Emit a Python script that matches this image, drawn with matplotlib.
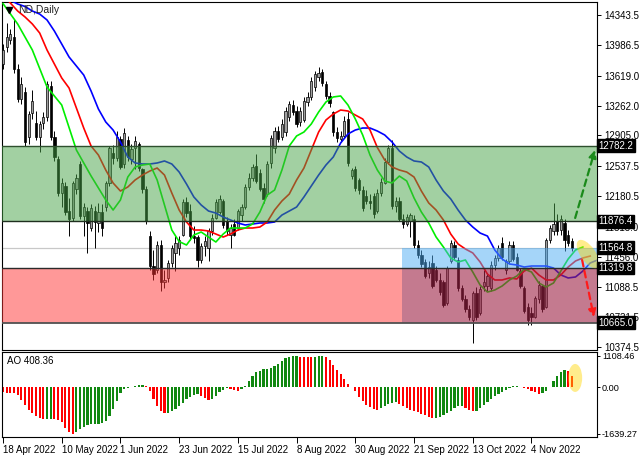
import numpy as np
import matplotlib.pyplot as plt
from matplotlib.patches import Ellipse, Rectangle
from matplotlib.transforms import ScaledTranslation

plt.rcParams['font.family'] = ['Liberation Sans', 'DejaVu Sans']

# daily candles, 18 Apr 2022 .. 22 Nov 2022 (bar index 0..155)
opens = [13760, 13960, 14050, 14080, 13700, 13340, 13420, 12880, 13170, 13050,
         12890, 13050, 13120, 13500, 12880, 12620, 12220, 12300, 12000, 11920,
         12260, 12560, 11940, 12000, 11800, 12000, 11860, 11990, 12050, 12340,
         12700, 12640, 12860, 12560, 12850, 12620, 12760, 12800, 12500, 12260,
         11700, 11350, 11300, 11600, 11150, 11200, 11380, 11500, 11560, 11720,
         12110, 12000, 11700, 11690, 11420, 11580, 11560, 11760, 11920, 11990,
         12120, 11880, 11720, 11850, 11800, 11950, 12050, 12290, 12400, 12540,
         12450, 12280, 12200, 12570, 12760, 12960, 12880, 12940, 13130, 13270,
         13200, 13060, 13090, 13300, 13360, 13480, 13600, 13660, 13520, 13380,
         13180, 12950, 12860, 12900, 13100, 12420, 12500, 12370, 12250, 12180,
         12120, 12180, 12000, 12220, 12340, 12590, 12760, 12060, 12120, 11910,
         11850, 11880, 11900, 11600, 11480, 11390, 11260, 11380, 11300, 11180,
         11150, 10900, 11400, 11600, 11420, 11080, 10950, 10830, 10700, 11020,
         10780, 11100, 11100, 11080, 11360, 11440, 11620, 11300, 11400, 11600,
         11450, 11280, 11080, 10850, 10780, 10740, 10950, 11100, 10860, 11660,
         11760, 11880, 11780, 11860, 11720, 11640]
highs = [14000, 14250, 14180, 14300, 13760, 13600, 13480, 13200, 13450, 13200,
         13080, 13180, 13560, 13560, 12960, 12660, 12400, 12350, 12160, 12360,
         12440, 12600, 12100, 12050, 12080, 12060, 12100, 12080, 12360, 12780,
         12790, 12960, 12900, 12990, 12900, 12800, 12900, 12830, 12520, 12300,
         11760, 11540, 11640, 11650, 11300, 11420, 11600, 11700, 11700, 12140,
         12170, 12080, 11820, 11720, 11620, 11700, 11800, 11960, 12150, 12190,
         12140, 11930, 11850, 11900, 12030, 12080, 12320, 12450, 12560, 12680,
         12500, 12340, 12600, 12910, 13000, 13020, 13100, 13240, 13320, 13330,
         13260, 13240, 13360, 13420, 13600, 13680, 13720, 13700, 13560, 13420,
         13200, 13000, 12960, 13140, 13180, 12520, 12540, 12400, 12300, 12250,
         12200, 12220, 12260, 12390, 12630, 12790, 12850, 12170, 12170, 11960,
         11960, 11980, 11950, 11650, 11540, 11430, 11400, 11480, 11340, 11260,
         11180, 11350, 11660, 11640, 11450, 11120, 11000, 10880, 11050, 11090,
         11100, 11300, 11260, 11400, 11470, 11600, 11690, 11430, 11640, 11640,
         11500, 11320, 11100, 10900, 10860, 10990, 11160, 11120, 11680, 11830,
         12100, 11960, 11950, 11900, 11780, 11680]
lows = [13700, 13900, 14000, 13650, 13300, 13280, 12780, 12800, 13100, 12850,
        12710, 12980, 13080, 12850, 12600, 12180, 12050, 11950, 11700, 11880,
        12200, 11900, 11700, 11500, 11760, 11560, 11750, 11700, 12000, 12300,
        12560, 12600, 12500, 12520, 12600, 12560, 12500, 12480, 12220, 11840,
        11300, 11180, 11260, 11050, 11080, 11150, 11330, 11280, 11480, 11700,
        11930, 11650, 11620, 11330, 11380, 11460, 11400, 11720, 11900, 11960,
        11800, 11720, 11560, 11700, 11780, 11880, 12030, 12250, 12360, 12330,
        12240, 12100, 12180, 12520, 12700, 12820, 12850, 12900, 13080, 13150,
        13000, 13020, 13060, 13260, 13330, 13440, 13560, 13500, 13340, 13250,
        12900, 12830, 12830, 12870, 12540, 12380, 12240, 12200, 12000, 12080,
        12020, 11920, 11980, 12180, 12320, 12560, 12030, 11990, 11880, 11800,
        11820, 11690, 11560, 11440, 11330, 11200, 11200, 11080, 11150, 11000,
        10850, 10880, 11380, 11420, 11050, 10920, 10800, 10700, 10420, 10700,
        10760, 11050, 11040, 11050, 11300, 11400, 11420, 11250, 11380, 11400,
        11280, 11080, 10780, 10640, 10640, 10720, 10900, 10800, 10840, 11620,
        11720, 11720, 11720, 11520, 11580, 11520]
closes = [13930, 14080, 14120, 13700, 13340, 13520, 12820, 13160, 13320, 12880,
          13040, 13120, 13520, 12890, 12650, 12220, 12330, 11990, 11900, 12330,
          12400, 11940, 12050, 11860, 12040, 11870, 11990, 11800, 12330, 12750,
          12640, 12880, 12530, 12930, 12650, 12740, 12840, 12520, 12260, 11880,
          11340, 11250, 11600, 11150, 11180, 11380, 11560, 11620, 11650, 12110,
          11980, 11700, 11680, 11420, 11580, 11640, 11760, 11920, 12110, 12150,
          11830, 11760, 11800, 11720, 12000, 12050, 12290, 12400, 12530, 12360,
          12270, 12150, 12560, 12870, 12960, 12860, 13040, 13200, 13280, 13180,
          13040, 13200, 13320, 13360, 13560, 13640, 13650, 13530, 13380, 13290,
          12940, 12870, 12900, 13080, 12570, 12490, 12280, 12250, 12040, 12120,
          12100, 11960, 12220, 12350, 12590, 12760, 12060, 12120, 11910, 11850,
          11930, 11950, 11600, 11470, 11370, 11230, 11330, 11110, 11180, 11030,
          10880, 11320, 11620, 11450, 11080, 10950, 10830, 10730, 11020, 10730,
          11070, 11150, 11220, 11360, 11440, 11560, 11450, 11400, 11600, 11430,
          11300, 11100, 10810, 10700, 10740, 10960, 11120, 10830, 11650, 11800,
          11850, 11760, 11900, 11660, 11620, 11565]

# Alligator lines (lips / teeth / jaw)
lips_x = [0, 4, 8, 12, 16, 20, 24, 28, 30, 32, 34, 36, 38] + list(range(40, 159, 2))
lips = [14480, 14236, 13925, 13483, 13268, 12730, 12420, 12133, 12013, 12133, 12407, 12527, 12551,
        12563, 12372, 12073, 11774, 11636, 11595, 11714, 11750, 11690, 11631,
        11726, 11798, 11798, 11798, 11846, 11990, 12192, 12252, 12491, 12778,
        12898, 12945, 13041, 13184, 13304, 13364, 13376, 13268, 13101, 12910,
        12670, 12491, 12360, 12336, 12419, 12360, 12157, 11989, 11858, 11691,
        11571, 11440, 11392, 11416, 11272, 11117, 11033, 11057, 11105, 11177,
        11224, 11308, 11272, 11141, 11093, 11141, 11284, 11428, 11535, 11571]
teeth_x = list(range(0, 161, 2))
teeth = [14580, 14487, 14391, 14320, 14236, 14128, 13925, 13758, 13591, 13471,
         13232, 12993, 12778, 12670, 12491, 12336, 12240, 12288, 12372, 12431,
         12479, 12515, 12431, 12216, 12013, 11870, 11774, 11774, 11762, 11726,
         11690, 11726, 11774, 11798, 11798, 11810, 11870, 12013, 12121, 12204,
         12372, 12515, 12730, 12945, 13089, 13160, 13208, 13196, 13148, 13101,
         12969, 12760, 12611, 12527, 12491, 12467, 12407, 12240, 12097, 12013,
         11894, 11726, 11607, 11547, 11500, 11392, 11248, 11177, 11177, 11201,
         11189, 11284, 11320, 11237, 11177, 11177, 11237, 11332, 11404, 11440,
         11463]
jaw_x = list(range(0, 163, 2))
jaw = [14560, 14520, 14475, 14445, 14391, 14355, 14284, 14152, 13997, 13842,
       13734, 13626, 13435, 13220, 13065, 12969, 12826, 12647, 12575, 12563,
       12563, 12575, 12599, 12563, 12467, 12324, 12169, 12073, 12001, 11977,
       11929, 11894, 11858, 11834, 11846, 11858, 11858, 11870, 11953, 12001,
       12049, 12169, 12300, 12431, 12551, 12647, 12814, 12922, 12969, 12993,
       12993, 12957, 12910, 12826, 12718, 12647, 12599, 12587, 12527, 12372,
       12240, 12145, 12013, 11894, 11810, 11738, 11702, 11535, 11428, 11368,
       11356, 11332, 11344, 11344, 11344, 11320, 11237, 11201, 11213, 11284,
       11380, 11416]

# Awesome Oscillator
ao = [-161, -185, -185, -209, -281, -448, -615, -782, -913, -1009,
      -1081, -1128, -1116, -1104, -1116, -1140, -1212, -1427, -1582, -1639,
      -1570, -1475, -1403, -1331, -1284, -1278, -1272, -1260, -1176, -997,
      -758, -472, -197, -42, -6, 30, 54, 90, 101, 54,
      -125, -400, -639, -818, -901, -890, -818, -746, -651, -531,
      -424, -340, -281, -245, -293, -388, -436, -400, -293, -173,
      -78, -30, -42, -78, -113, -66, 54, 221, 412, 531,
      591, 639, 663, 686, 746, 842, 937, 1021, 1069, 1093,
      1105, 1081, 1069, 1063, 1057, 1081, 1093, 1108, 1057, 961,
      794, 627, 472, 304, 137, 30, -125, -328, -484, -615,
      -699, -746, -782, -734, -651, -579, -531, -507, -567, -639,
      -734, -794, -842, -878, -925, -985, -1045, -1093, -1081, -1033,
      -973, -901, -818, -734, -663, -639, -710, -794, -842, -818,
      -734, -627, -519, -412, -316, -233, -161, -90, -18, 42,
      66, 30, -18, -66, -113, -161, -221, -209, -125, 18,
      233, 412, 555, 615, 590, 408.36]

date_labels = ["18 Apr 2022", "10 May 2022", "1 Jun 2022", "23 Jun 2022", "15 Jul 2022",
               "8 Aug 2022", "30 Aug 2022", "21 Sep 2022", "13 Oct 2022", "4 Nov 2022"]
date_pos = [0, 16, 32, 48, 64, 80, 96, 112, 128, 144]

price_ticks = [14343.5, 13986.5, 13619.0, 13262.0, 12905.0, 12537.5, 12180.5,
               11813.0, 11456.0, 11088.5, 10731.5, 10374.5]
ao_ticks = [1108.46, 0.00, -1639.27]

# horizontal levels
level_top = 12782.2
level_res = 11876.4
level_bid = 11564.8
level_sup = 11319.8
level_low = 10665.0
zone_start = 108.8   # bar where the recent blue / dark red boxes begin

n = len(closes)
x = np.arange(n)
o = np.array(opens); c = np.array(closes)
xmin, xmax = -0.27, 161.85

fig = plt.figure(figsize=(6.4, 4.57), dpi=100)
ax = fig.add_axes([2/640, 107/457, 595/640, 348/457])
ax2 = fig.add_axes([2/640, 20/457, 595/640, 85/457])

# candles
ax.vlines(x, lows, highs, color='black', lw=0.7, zorder=2)
bull = c >= o
body_lo = np.minimum(o, c)
body_h = np.maximum(np.abs(c - o), 8)
ax.bar(x[bull], body_h[bull], bottom=body_lo[bull], width=0.62,
       color='#a0a0a0', edgecolor='black', lw=0.5, zorder=3)
ax.bar(x[~bull], body_h[~bull], bottom=body_lo[~bull], width=0.62,
       color='black', edgecolor='black', lw=0.5, zorder=3)

# alligator
ax.plot(jaw_x, jaw, color='#0000ff', lw=1.2, zorder=4)
ax.plot(teeth_x, teeth, color='#ff0000', lw=1.2, zorder=4)
ax.plot(lips_x, lips, color='#00ee00', lw=1.2, zorder=4)

# zones drawn over the price with transparency
ax.axhspan(level_res, level_top, color='#47a347', alpha=0.5, lw=0, zorder=5)
ax.add_patch(Rectangle((xmin, level_low), zone_start - xmin, level_sup - level_low,
                       color='#ff3333', alpha=0.5, lw=0, zorder=5))
ax.add_patch(Rectangle((zone_start, level_low), xmax - zone_start, level_sup - level_low,
                       color='#9d2144', alpha=0.6, lw=0, zorder=5))
ax.add_patch(Rectangle((zone_start, level_sup), xmax - zone_start, level_bid - level_sup,
                       color='#4dadf5', alpha=0.5, lw=0, zorder=5))

ax.axhline(level_bid, color='#c8c8c8', lw=0.9, zorder=1)
ax.axhline(level_top, color='#2d4f2d', lw=1.0, zorder=6)
ax.axhline(level_res, color='#1f2f1f', lw=1.0, zorder=6)
ax.axhline(level_sup, color='#2a2a2a', lw=1.0, zorder=6)
ax.axhline(level_low, color='#505050', lw=1.3, zorder=6)

# scenario arrows
ax.annotate('', xy=(161.3, 12730), xytext=(155.9, 11918),
            arrowprops=dict(arrowstyle='-|>', color='#1a8a1a', lw=1.6, ls=(0, (3, 2)),
                            mutation_scale=11, shrinkA=0, shrinkB=0), zorder=7)
ax.annotate('', xy=(161.0, 10734), xytext=(157.8, 11416),
            arrowprops=dict(arrowstyle='-|>', color='#ff1a1a', lw=1.6, ls=(0, (3, 2)),
                            mutation_scale=11, shrinkA=0, shrinkB=0), zorder=7)

# highlight ellipses
tr = fig.dpi_scale_trans + ScaledTranslation(159.4, 11487, ax.transData)
ax.add_patch(Ellipse((0, 0), 0.33, 0.15, angle=-55, transform=tr,
                     color='#ffd700', alpha=0.45, lw=0, zorder=8))

ax.set_xlim(xmin, xmax)
ax.set_ylim(10340.25, 14498.85)
ax.set_xticks([])
ax.yaxis.tick_right()
ax.set_yticks(price_ticks)
ax.set_yticklabels([f"{v:.1f}" for v in price_ticks])
ax.tick_params(axis='y', labelsize=7, length=3, pad=2, width=0.7)
for s in ax.spines.values():
    s.set_linewidth(0.8)

for lv in [level_top, level_res, level_bid, level_sup, level_low]:
    ax.text(1.003, lv, f"{lv:.1f}", transform=ax.get_yaxis_transform(),
            color='white', fontsize=7, va='center', ha='left', zorder=10, clip_on=False,
            bbox=dict(boxstyle='square,pad=0.15', fc='black', ec='black'))

ax.plot([0.012], [0.978], marker='v', color='black', markersize=5,
        transform=ax.transAxes, clip_on=False, zorder=9)
ax.text(0.027, 0.992, "ND,Daily", transform=ax.transAxes, fontsize=7.5,
        color='#202020', va='top', ha='left', zorder=9)

# AO panel
ao_arr = np.array(ao)
prev = np.concatenate([[ao_arr[0] + 1], ao_arr[:-1]])
cols = np.where(ao_arr > prev, '#118811', '#ff0000')
ax2.bar(x, ao_arr, width=0.6, color=cols, lw=0, zorder=2)
tr2 = fig.dpi_scale_trans + ScaledTranslation(155.9, 335, ax2.transData)
ax2.add_patch(Ellipse((0, 0), 0.14, 0.28, transform=tr2,
                      color='#ffd700', alpha=0.45, lw=0, zorder=3))
ax2.set_xlim(xmin, xmax)
ax2.set_ylim(-1745, 1249)
ax2.yaxis.tick_right()
ax2.set_yticks(ao_ticks)
ax2.set_yticklabels([f"{v:.2f}" for v in ao_ticks])
ax2.tick_params(axis='y', labelsize=6.6, length=2, pad=1.5, width=0.7)
ax2.set_xticks(date_pos)
ax2.set_xticklabels(date_labels, ha='left')
ax2.tick_params(axis='x', labelsize=7, length=4, pad=2, width=0.7)
for s in ax2.spines.values():
    s.set_linewidth(0.8)
ax2.text(0.008, 0.9, "AO 408.36", transform=ax2.transAxes, fontsize=7,
         va='center', ha='left')

fig.savefig("out.png", dpi=100)
